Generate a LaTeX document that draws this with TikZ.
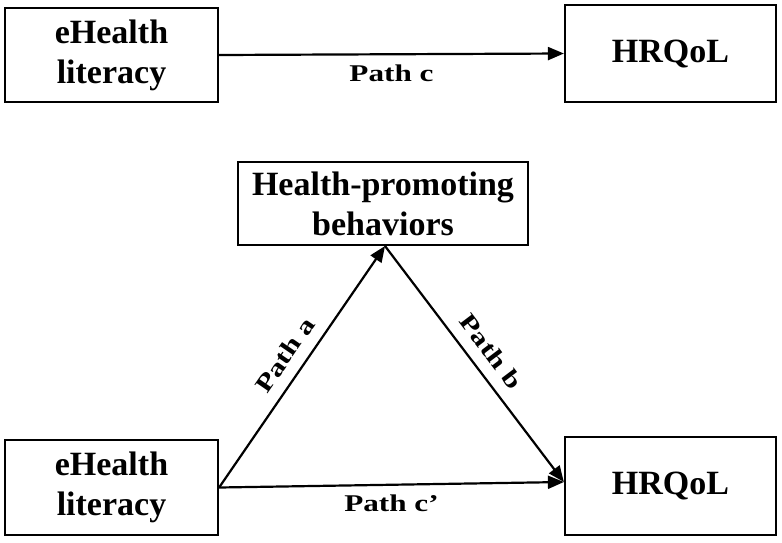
\documentclass[tikz,border=0pt]{standalone}
\usepackage{fontspec}
\setmainfont{Liberation Serif}
\usetikzlibrary{arrows.meta}
\newcommand{\wlab}[1]{\scalebox{1.3}[1]{#1}}
\begin{document}
\begin{tikzpicture}[x=1pt,y=-1pt,
  box/.style={draw,line width=2.2pt,align=center,font=\fontsize{34}{40}\selectfont\bfseries,inner sep=0pt},
  arr/.style={line width=2.2pt,-{Triangle[length=16pt,width=13pt]}},
  lab/.style={font=\fontsize{24}{26}\selectfont\bfseries}]
\useasboundingbox (0,0) rectangle (782,542);
\node[box,minimum width=213,minimum height=94] (a1) at (111.5,55) {eHealth\\literacy};
\node[box,minimum width=211,minimum height=97] (h1) at (670.5,53.5) {HRQoL};
\node[box,minimum width=290,minimum height=83] (m) at (383,203.5) {Health-promoting\\behaviors};
\node[box,minimum width=213,minimum height=95] (a2) at (111.5,487.5) {eHealth\\literacy};
\node[box,minimum width=211,minimum height=98] (h2) at (670.5,486) {HRQoL};
\coordinate (top) at (385,246);
\draw[arr] (a1.east) -- (h1.west) node[lab,midway,below=6pt] {\wlab{Path c}};
\draw[arr] (a2.east) -- (top) node[lab,midway,sloped,above=8pt] {\wlab{Path a}};
\draw[arr] (top) -- ([yshift=4pt]h2.west) node[lab,midway,sloped,above=8pt] {\wlab{Path b}};
\draw[arr] (a2.east) -- ([yshift=4pt]h2.west) node[lab,midway,below=6pt] {\wlab{Path c’}};
\end{tikzpicture}
\end{document}
